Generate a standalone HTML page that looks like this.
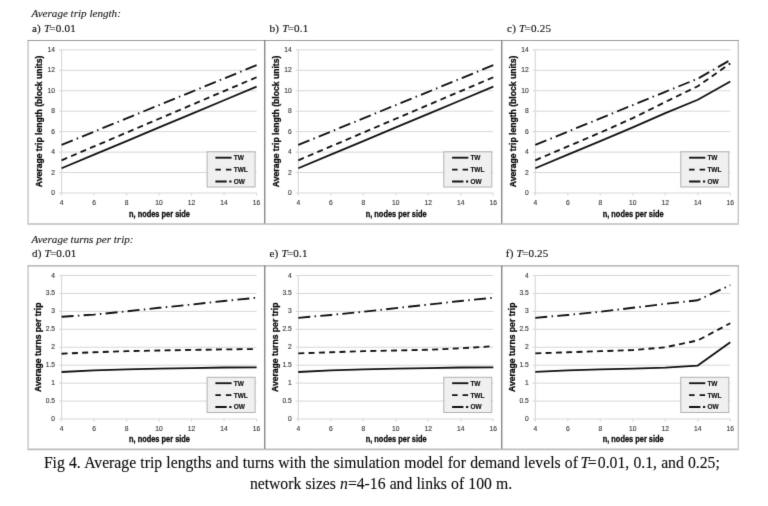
<!DOCTYPE html>
<html><head><meta charset="utf-8"><title>Fig 4</title>
<style>html,body{margin:0;padding:0;background:#fff}svg{display:block}.tk{font:6.7px "Liberation Sans", sans-serif;fill:#3c3c3c;stroke:#3c3c3c;stroke-width:.14px}.ti{font:bold 8.6px "Liberation Sans", sans-serif;fill:#0c0c0c;stroke:#0c0c0c;stroke-width:.3px}.lg{font:bold 6.5px "Liberation Sans", sans-serif;fill:#111;stroke:#111;stroke-width:.15px}.ln{fill:none;stroke:#121212;stroke-width:1.85;stroke-linejoin:round}.hd{font:italic 11.1px "Liberation Serif", serif;fill:#1a1a1a;stroke:#1a1a1a;stroke-width:.12px}.sh{font:11.1px "Liberation Serif", serif;fill:#111;stroke:#111;stroke-width:.14px;letter-spacing:.2px}.cp{font:15.7px "Liberation Serif", serif;fill:#0a0a0a;stroke:#0a0a0a;stroke-width:.1px}.i{font-style:italic}</style></head><body>
<svg width="768" height="506" viewBox="0 0 768 506">
<defs><filter id="sf" x="0" y="0" width="768" height="506" filterUnits="userSpaceOnUse" color-interpolation-filters="sRGB"><feConvolveMatrix order="3" kernelMatrix="0.0086 0.0757 0.0086 0.0757 0.6628 0.0757 0.0086 0.0757 0.0086" edgeMode="duplicate" preserveAlpha="true"/></filter></defs>
<g filter="url(#sf)">
<rect width="768" height="506" fill="#fff"/>
<text x="31.5" y="17.1" class="hd">Average trip length:</text>
<text x="31.5" y="242.5" class="hd">Average turns per trip:</text>
<text x="31.90" y="31.80" class="sh">a) <tspan class="i">T</tspan><tspan dx="-1">=0.01</tspan></text>
<text x="269.50" y="31.80" class="sh">b) <tspan class="i">T</tspan><tspan dx="-1">=0.1</tspan></text>
<text x="507.10" y="31.80" class="sh">c) <tspan class="i">T</tspan><tspan dx="-1">=0.25</tspan></text>
<text x="31.90" y="257.20" class="sh">d) <tspan class="i">T</tspan><tspan dx="-1">=0.01</tspan></text>
<text x="269.50" y="257.20" class="sh">e) <tspan class="i">T</tspan><tspan dx="-1">=0.1</tspan></text>
<text x="505.80" y="257.20" class="sh">f) <tspan class="i">T</tspan><tspan dx="-1">=0.25</tspan></text>
<path d="M61.60 172.55H256.60M61.60 152.10H256.60M61.60 131.65H256.60M61.60 111.20H256.60M61.60 90.75H256.60M61.60 70.30H256.60M61.60 49.85H256.60" stroke="#d7d7d7" stroke-width="1" fill="none"/>
<path d="M61.60 49.85V193.00 M61.60 193.00H256.60M61.60 193.00h-2.6M61.60 172.55h-2.6M61.60 152.10h-2.6M61.60 131.65h-2.6M61.60 111.20h-2.6M61.60 90.75h-2.6M61.60 70.30h-2.6M61.60 49.85h-2.6M61.60 193.00v2.6M94.10 193.00v2.6M126.60 193.00v2.6M159.10 193.00v2.6M191.60 193.00v2.6M224.10 193.00v2.6M256.60 193.00v2.6" stroke="#d8d8d8" stroke-width="1.1" fill="none"/>
<text x="55.00" y="195.00" text-anchor="end" class="tk">0</text>
<text x="55.00" y="174.55" text-anchor="end" class="tk">2</text>
<text x="55.00" y="154.10" text-anchor="end" class="tk">4</text>
<text x="55.00" y="133.65" text-anchor="end" class="tk">6</text>
<text x="55.00" y="113.20" text-anchor="end" class="tk">8</text>
<text x="55.00" y="92.75" text-anchor="end" class="tk">10</text>
<text x="55.00" y="72.30" text-anchor="end" class="tk">12</text>
<text x="55.00" y="51.85" text-anchor="end" class="tk">14</text>
<text x="61.60" y="205.10" text-anchor="middle" class="tk">4</text>
<text x="94.10" y="205.10" text-anchor="middle" class="tk">6</text>
<text x="126.60" y="205.10" text-anchor="middle" class="tk">8</text>
<text x="159.10" y="205.10" text-anchor="middle" class="tk">10</text>
<text x="191.60" y="205.10" text-anchor="middle" class="tk">12</text>
<text x="224.10" y="205.10" text-anchor="middle" class="tk">14</text>
<text x="256.60" y="205.10" text-anchor="middle" class="tk">16</text>
<text x="159.50" y="217.00" text-anchor="middle" class="ti" style="font-size:8.3px" textLength="61" lengthAdjust="spacingAndGlyphs">n, nodes per side</text>
<text transform="translate(42.40 121.42) rotate(-90)" text-anchor="middle" class="ti">Average trip length (block units)</text>
<path d="M61.60 168.26 L94.10 154.66 L126.60 141.06 L159.10 127.46 L191.60 113.86 L224.10 100.26 L256.60 86.66" class="ln"/>
<path d="M61.60 160.28 L94.10 146.44 L126.60 132.60 L159.10 118.77 L191.60 104.93 L224.10 91.09 L256.60 77.25" class="ln" stroke-dasharray="6 4.3"/>
<path d="M61.60 144.94 L94.10 131.65 L126.60 118.36 L159.10 105.07 L191.60 91.77 L224.10 78.48 L256.60 65.19" class="ln" stroke-dasharray="12 4.3 1.5 4.28"/>
<rect x="207.10" y="151.80" width="48.00" height="35.20" fill="#f0f0f0" stroke="#b2b2b2" stroke-width="1"/>
<path d="M215.40 157.70h16.2" class="ln"/>
<text x="233.70" y="160.10" class="lg">TW</text>
<path d="M215.40 169.60h16.2" class="ln" stroke-dasharray="5.5 5"/>
<text x="233.70" y="172.00" class="lg">TWL</text>
<path d="M215.40 181.50h16.2" class="ln" stroke-dasharray="11.3 2.6 2.2 3"/>
<text x="233.70" y="183.90" class="lg">OW</text>
<path d="M298.30 172.55H493.30M298.30 152.10H493.30M298.30 131.65H493.30M298.30 111.20H493.30M298.30 90.75H493.30M298.30 70.30H493.30M298.30 49.85H493.30" stroke="#d7d7d7" stroke-width="1" fill="none"/>
<path d="M298.30 49.85V193.00 M298.30 193.00H493.30M298.30 193.00h-2.6M298.30 172.55h-2.6M298.30 152.10h-2.6M298.30 131.65h-2.6M298.30 111.20h-2.6M298.30 90.75h-2.6M298.30 70.30h-2.6M298.30 49.85h-2.6M298.30 193.00v2.6M330.80 193.00v2.6M363.30 193.00v2.6M395.80 193.00v2.6M428.30 193.00v2.6M460.80 193.00v2.6M493.30 193.00v2.6" stroke="#d8d8d8" stroke-width="1.1" fill="none"/>
<text x="291.70" y="195.00" text-anchor="end" class="tk">0</text>
<text x="291.70" y="174.55" text-anchor="end" class="tk">2</text>
<text x="291.70" y="154.10" text-anchor="end" class="tk">4</text>
<text x="291.70" y="133.65" text-anchor="end" class="tk">6</text>
<text x="291.70" y="113.20" text-anchor="end" class="tk">8</text>
<text x="291.70" y="92.75" text-anchor="end" class="tk">10</text>
<text x="291.70" y="72.30" text-anchor="end" class="tk">12</text>
<text x="291.70" y="51.85" text-anchor="end" class="tk">14</text>
<text x="298.30" y="205.10" text-anchor="middle" class="tk">4</text>
<text x="330.80" y="205.10" text-anchor="middle" class="tk">6</text>
<text x="363.30" y="205.10" text-anchor="middle" class="tk">8</text>
<text x="395.80" y="205.10" text-anchor="middle" class="tk">10</text>
<text x="428.30" y="205.10" text-anchor="middle" class="tk">12</text>
<text x="460.80" y="205.10" text-anchor="middle" class="tk">14</text>
<text x="493.30" y="205.10" text-anchor="middle" class="tk">16</text>
<text x="396.20" y="217.00" text-anchor="middle" class="ti" style="font-size:8.3px" textLength="61" lengthAdjust="spacingAndGlyphs">n, nodes per side</text>
<text transform="translate(279.10 121.42) rotate(-90)" text-anchor="middle" class="ti">Average trip length (block units)</text>
<path d="M298.30 168.26 L330.80 154.66 L363.30 141.06 L395.80 127.46 L428.30 113.86 L460.80 100.26 L493.30 86.66" class="ln"/>
<path d="M298.30 160.28 L330.80 146.44 L363.30 132.60 L395.80 118.77 L428.30 104.93 L460.80 91.09 L493.30 77.25" class="ln" stroke-dasharray="6 4.3"/>
<path d="M298.30 144.94 L330.80 131.65 L363.30 118.36 L395.80 105.07 L428.30 91.77 L460.80 78.48 L493.30 65.19" class="ln" stroke-dasharray="12 4.3 1.5 4.28"/>
<rect x="443.80" y="151.80" width="48.00" height="35.20" fill="#f0f0f0" stroke="#b2b2b2" stroke-width="1"/>
<path d="M452.10 157.70h16.2" class="ln"/>
<text x="470.40" y="160.10" class="lg">TW</text>
<path d="M452.10 169.60h16.2" class="ln" stroke-dasharray="5.5 5"/>
<text x="470.40" y="172.00" class="lg">TWL</text>
<path d="M452.10 181.50h16.2" class="ln" stroke-dasharray="11.3 2.6 2.2 3"/>
<text x="470.40" y="183.90" class="lg">OW</text>
<path d="M535.30 172.55H730.30M535.30 152.10H730.30M535.30 131.65H730.30M535.30 111.20H730.30M535.30 90.75H730.30M535.30 70.30H730.30M535.30 49.85H730.30" stroke="#d7d7d7" stroke-width="1" fill="none"/>
<path d="M535.30 49.85V193.00 M535.30 193.00H730.30M535.30 193.00h-2.6M535.30 172.55h-2.6M535.30 152.10h-2.6M535.30 131.65h-2.6M535.30 111.20h-2.6M535.30 90.75h-2.6M535.30 70.30h-2.6M535.30 49.85h-2.6M535.30 193.00v2.6M567.80 193.00v2.6M600.30 193.00v2.6M632.80 193.00v2.6M665.30 193.00v2.6M697.80 193.00v2.6M730.30 193.00v2.6" stroke="#d8d8d8" stroke-width="1.1" fill="none"/>
<text x="528.70" y="195.00" text-anchor="end" class="tk">0</text>
<text x="528.70" y="174.55" text-anchor="end" class="tk">2</text>
<text x="528.70" y="154.10" text-anchor="end" class="tk">4</text>
<text x="528.70" y="133.65" text-anchor="end" class="tk">6</text>
<text x="528.70" y="113.20" text-anchor="end" class="tk">8</text>
<text x="528.70" y="92.75" text-anchor="end" class="tk">10</text>
<text x="528.70" y="72.30" text-anchor="end" class="tk">12</text>
<text x="528.70" y="51.85" text-anchor="end" class="tk">14</text>
<text x="535.30" y="205.10" text-anchor="middle" class="tk">4</text>
<text x="567.80" y="205.10" text-anchor="middle" class="tk">6</text>
<text x="600.30" y="205.10" text-anchor="middle" class="tk">8</text>
<text x="632.80" y="205.10" text-anchor="middle" class="tk">10</text>
<text x="665.30" y="205.10" text-anchor="middle" class="tk">12</text>
<text x="697.80" y="205.10" text-anchor="middle" class="tk">14</text>
<text x="730.30" y="205.10" text-anchor="middle" class="tk">16</text>
<text x="633.20" y="217.00" text-anchor="middle" class="ti" style="font-size:8.3px" textLength="61" lengthAdjust="spacingAndGlyphs">n, nodes per side</text>
<text transform="translate(516.10 121.42) rotate(-90)" text-anchor="middle" class="ti">Average trip length (block units)</text>
<path d="M535.30 168.26 L567.80 154.66 L600.30 141.06 L632.80 127.46 L665.30 113.04 L697.80 99.75 L730.30 81.55" class="ln"/>
<path d="M535.30 160.28 L567.80 146.44 L600.30 132.60 L632.80 118.15 L665.30 102.00 L697.80 86.25 L730.30 63.45" class="ln" stroke-dasharray="6 4.3"/>
<path d="M535.30 144.94 L567.80 131.65 L600.30 118.36 L632.80 105.07 L665.30 91.77 L697.80 78.68 L730.30 60.07" class="ln" stroke-dasharray="12 4.3 1.5 4.28"/>
<rect x="680.80" y="151.80" width="48.00" height="35.20" fill="#f0f0f0" stroke="#b2b2b2" stroke-width="1"/>
<path d="M689.10 157.70h16.2" class="ln"/>
<text x="707.40" y="160.10" class="lg">TW</text>
<path d="M689.10 169.60h16.2" class="ln" stroke-dasharray="5.5 5"/>
<text x="707.40" y="172.00" class="lg">TWL</text>
<path d="M689.10 181.50h16.2" class="ln" stroke-dasharray="11.3 2.6 2.2 3"/>
<text x="707.40" y="183.90" class="lg">OW</text>
<path d="M28.10 40.40V223.40 M738.30 40.40V223.40" stroke="#c2c2c2" stroke-width="1.3" fill="none"/>
<path d="M27.50 224.00H738.90" stroke="#bdbdbd" stroke-width="1.6" fill="none"/>
<path d="M27.50 40.50H738.90" stroke="#9c9c9c" stroke-width="1.1" fill="none"/>
<path d="M264.80 40.40V223.40M501.80 40.40V223.40" stroke="#5a5a5a" stroke-width="1.0" fill="none"/>
<path d="M61.60 401.06H256.60M61.60 383.12H256.60M61.60 365.19H256.60M61.60 347.25H256.60M61.60 329.31H256.60M61.60 311.38H256.60M61.60 293.44H256.60M61.60 275.50H256.60" stroke="#d7d7d7" stroke-width="1" fill="none"/>
<path d="M61.60 275.50V419.00 M61.60 419.00H256.60M61.60 419.00h-2.6M61.60 401.06h-2.6M61.60 383.12h-2.6M61.60 365.19h-2.6M61.60 347.25h-2.6M61.60 329.31h-2.6M61.60 311.38h-2.6M61.60 293.44h-2.6M61.60 275.50h-2.6M61.60 419.00v2.6M94.10 419.00v2.6M126.60 419.00v2.6M159.10 419.00v2.6M191.60 419.00v2.6M224.10 419.00v2.6M256.60 419.00v2.6" stroke="#d8d8d8" stroke-width="1.1" fill="none"/>
<text x="55.00" y="421.00" text-anchor="end" class="tk">0</text>
<text x="55.00" y="403.06" text-anchor="end" class="tk">0.5</text>
<text x="55.00" y="385.12" text-anchor="end" class="tk">1</text>
<text x="55.00" y="367.19" text-anchor="end" class="tk">1.5</text>
<text x="55.00" y="349.25" text-anchor="end" class="tk">2</text>
<text x="55.00" y="331.31" text-anchor="end" class="tk">2.5</text>
<text x="55.00" y="313.38" text-anchor="end" class="tk">3</text>
<text x="55.00" y="295.44" text-anchor="end" class="tk">3.5</text>
<text x="55.00" y="277.50" text-anchor="end" class="tk">4</text>
<text x="61.60" y="431.10" text-anchor="middle" class="tk">4</text>
<text x="94.10" y="431.10" text-anchor="middle" class="tk">6</text>
<text x="126.60" y="431.10" text-anchor="middle" class="tk">8</text>
<text x="159.10" y="431.10" text-anchor="middle" class="tk">10</text>
<text x="191.60" y="431.10" text-anchor="middle" class="tk">12</text>
<text x="224.10" y="431.10" text-anchor="middle" class="tk">14</text>
<text x="256.60" y="431.10" text-anchor="middle" class="tk">16</text>
<text x="159.50" y="442.40" text-anchor="middle" class="ti" style="font-size:8.3px" textLength="61" lengthAdjust="spacingAndGlyphs">n, nodes per side</text>
<text transform="translate(41.10 347.25) rotate(-90)" text-anchor="middle" class="ti">Average turns per trip</text>
<path d="M61.60 372.00 L94.10 370.39 L126.60 369.31 L159.10 368.60 L191.60 368.06 L224.10 367.52 L256.60 367.34" class="ln"/>
<path d="M61.60 353.71 L94.10 352.27 L126.60 351.20 L159.10 350.48 L191.60 349.94 L224.10 349.40 L256.60 349.04" class="ln" stroke-dasharray="6 4.3"/>
<path d="M61.60 316.76 L94.10 314.60 L126.60 311.38 L159.10 307.79 L191.60 304.56 L224.10 300.97 L256.60 297.74" class="ln" stroke-dasharray="12 4.3 1.5 4.28"/>
<rect x="207.10" y="377.30" width="48.00" height="35.20" fill="#f0f0f0" stroke="#b2b2b2" stroke-width="1"/>
<path d="M215.40 383.20h16.2" class="ln"/>
<text x="233.70" y="385.60" class="lg">TW</text>
<path d="M215.40 395.10h16.2" class="ln" stroke-dasharray="5.5 5"/>
<text x="233.70" y="397.50" class="lg">TWL</text>
<path d="M215.40 407.00h16.2" class="ln" stroke-dasharray="11.3 2.6 2.2 3"/>
<text x="233.70" y="409.40" class="lg">OW</text>
<path d="M298.30 401.06H493.30M298.30 383.12H493.30M298.30 365.19H493.30M298.30 347.25H493.30M298.30 329.31H493.30M298.30 311.38H493.30M298.30 293.44H493.30M298.30 275.50H493.30" stroke="#d7d7d7" stroke-width="1" fill="none"/>
<path d="M298.30 275.50V419.00 M298.30 419.00H493.30M298.30 419.00h-2.6M298.30 401.06h-2.6M298.30 383.12h-2.6M298.30 365.19h-2.6M298.30 347.25h-2.6M298.30 329.31h-2.6M298.30 311.38h-2.6M298.30 293.44h-2.6M298.30 275.50h-2.6M298.30 419.00v2.6M330.80 419.00v2.6M363.30 419.00v2.6M395.80 419.00v2.6M428.30 419.00v2.6M460.80 419.00v2.6M493.30 419.00v2.6" stroke="#d8d8d8" stroke-width="1.1" fill="none"/>
<text x="291.70" y="421.00" text-anchor="end" class="tk">0</text>
<text x="291.70" y="403.06" text-anchor="end" class="tk">0.5</text>
<text x="291.70" y="385.12" text-anchor="end" class="tk">1</text>
<text x="291.70" y="367.19" text-anchor="end" class="tk">1.5</text>
<text x="291.70" y="349.25" text-anchor="end" class="tk">2</text>
<text x="291.70" y="331.31" text-anchor="end" class="tk">2.5</text>
<text x="291.70" y="313.38" text-anchor="end" class="tk">3</text>
<text x="291.70" y="295.44" text-anchor="end" class="tk">3.5</text>
<text x="291.70" y="277.50" text-anchor="end" class="tk">4</text>
<text x="298.30" y="431.10" text-anchor="middle" class="tk">4</text>
<text x="330.80" y="431.10" text-anchor="middle" class="tk">6</text>
<text x="363.30" y="431.10" text-anchor="middle" class="tk">8</text>
<text x="395.80" y="431.10" text-anchor="middle" class="tk">10</text>
<text x="428.30" y="431.10" text-anchor="middle" class="tk">12</text>
<text x="460.80" y="431.10" text-anchor="middle" class="tk">14</text>
<text x="493.30" y="431.10" text-anchor="middle" class="tk">16</text>
<text x="396.20" y="442.40" text-anchor="middle" class="ti" style="font-size:8.3px" textLength="61" lengthAdjust="spacingAndGlyphs">n, nodes per side</text>
<text transform="translate(277.80 347.25) rotate(-90)" text-anchor="middle" class="ti">Average turns per trip</text>
<path d="M298.30 372.00 L330.80 370.39 L363.30 369.31 L395.80 368.60 L428.30 368.06 L460.80 367.52 L493.30 367.34" class="ln"/>
<path d="M298.30 353.35 L330.80 352.27 L363.30 351.20 L395.80 350.48 L428.30 349.76 L460.80 348.33 L493.30 346.17" class="ln" stroke-dasharray="6 4.3"/>
<path d="M298.30 317.83 L330.80 314.96 L363.30 311.73 L395.80 308.15 L428.30 304.56 L460.80 300.97 L493.30 297.74" class="ln" stroke-dasharray="12 4.3 1.5 4.28"/>
<rect x="443.80" y="377.30" width="48.00" height="35.20" fill="#f0f0f0" stroke="#b2b2b2" stroke-width="1"/>
<path d="M452.10 383.20h16.2" class="ln"/>
<text x="470.40" y="385.60" class="lg">TW</text>
<path d="M452.10 395.10h16.2" class="ln" stroke-dasharray="5.5 5"/>
<text x="470.40" y="397.50" class="lg">TWL</text>
<path d="M452.10 407.00h16.2" class="ln" stroke-dasharray="11.3 2.6 2.2 3"/>
<text x="470.40" y="409.40" class="lg">OW</text>
<path d="M535.30 401.06H730.30M535.30 383.12H730.30M535.30 365.19H730.30M535.30 347.25H730.30M535.30 329.31H730.30M535.30 311.38H730.30M535.30 293.44H730.30M535.30 275.50H730.30" stroke="#d7d7d7" stroke-width="1" fill="none"/>
<path d="M535.30 275.50V419.00 M535.30 419.00H730.30M535.30 419.00h-2.6M535.30 401.06h-2.6M535.30 383.12h-2.6M535.30 365.19h-2.6M535.30 347.25h-2.6M535.30 329.31h-2.6M535.30 311.38h-2.6M535.30 293.44h-2.6M535.30 275.50h-2.6M535.30 419.00v2.6M567.80 419.00v2.6M600.30 419.00v2.6M632.80 419.00v2.6M665.30 419.00v2.6M697.80 419.00v2.6M730.30 419.00v2.6" stroke="#d8d8d8" stroke-width="1.1" fill="none"/>
<text x="528.70" y="421.00" text-anchor="end" class="tk">0</text>
<text x="528.70" y="403.06" text-anchor="end" class="tk">0.5</text>
<text x="528.70" y="385.12" text-anchor="end" class="tk">1</text>
<text x="528.70" y="367.19" text-anchor="end" class="tk">1.5</text>
<text x="528.70" y="349.25" text-anchor="end" class="tk">2</text>
<text x="528.70" y="331.31" text-anchor="end" class="tk">2.5</text>
<text x="528.70" y="313.38" text-anchor="end" class="tk">3</text>
<text x="528.70" y="295.44" text-anchor="end" class="tk">3.5</text>
<text x="528.70" y="277.50" text-anchor="end" class="tk">4</text>
<text x="535.30" y="431.10" text-anchor="middle" class="tk">4</text>
<text x="567.80" y="431.10" text-anchor="middle" class="tk">6</text>
<text x="600.30" y="431.10" text-anchor="middle" class="tk">8</text>
<text x="632.80" y="431.10" text-anchor="middle" class="tk">10</text>
<text x="665.30" y="431.10" text-anchor="middle" class="tk">12</text>
<text x="697.80" y="431.10" text-anchor="middle" class="tk">14</text>
<text x="730.30" y="431.10" text-anchor="middle" class="tk">16</text>
<text x="633.20" y="442.40" text-anchor="middle" class="ti" style="font-size:8.3px" textLength="61" lengthAdjust="spacingAndGlyphs">n, nodes per side</text>
<text transform="translate(514.80 347.25) rotate(-90)" text-anchor="middle" class="ti">Average turns per trip</text>
<path d="M535.30 371.82 L567.80 370.39 L600.30 369.31 L632.80 368.60 L665.30 367.70 L697.80 365.55 L730.30 342.23" class="ln"/>
<path d="M535.30 353.35 L567.80 352.27 L600.30 351.20 L632.80 350.12 L665.30 347.25 L697.80 340.43 L730.30 323.21" class="ln" stroke-dasharray="6 4.3"/>
<path d="M535.30 317.83 L567.80 314.96 L600.30 311.73 L632.80 307.79 L665.30 303.84 L697.80 300.25 L730.30 285.19" class="ln" stroke-dasharray="12 4.3 1.5 4.28"/>
<rect x="680.80" y="377.30" width="48.00" height="35.20" fill="#f0f0f0" stroke="#b2b2b2" stroke-width="1"/>
<path d="M689.10 383.20h16.2" class="ln"/>
<text x="707.40" y="385.60" class="lg">TW</text>
<path d="M689.10 395.10h16.2" class="ln" stroke-dasharray="5.5 5"/>
<text x="707.40" y="397.50" class="lg">TWL</text>
<path d="M689.10 407.00h16.2" class="ln" stroke-dasharray="11.3 2.6 2.2 3"/>
<text x="707.40" y="409.40" class="lg">OW</text>
<path d="M28.10 265.80V448.80 M738.30 265.80V448.80" stroke="#c2c2c2" stroke-width="1.3" fill="none"/>
<path d="M27.50 449.40H738.90" stroke="#bdbdbd" stroke-width="1.6" fill="none"/>
<path d="M27.50 265.90H738.90" stroke="#a6a6a6" stroke-width="1.2" fill="none"/>
<path d="M264.80 265.80V448.80M501.80 265.80V448.80" stroke="#5a5a5a" stroke-width="1.0" fill="none"/>
<text x="43.9" y="468" class="cp" style="word-spacing:.29px">Fig 4. Average trip lengths and turns with the simulation model for demand levels of <tspan class="i" dx="-1.6">T</tspan><tspan dx="-1.5">=</tspan><tspan dx="1.2">0.01, 0.1, and 0.25;</tspan></text>
<text x="381.0" y="488.8" text-anchor="middle" class="cp" style="word-spacing:.22px">network sizes <tspan class="i">n</tspan>=4-16 and links of 100 m.</text>
</g></svg></body></html>
